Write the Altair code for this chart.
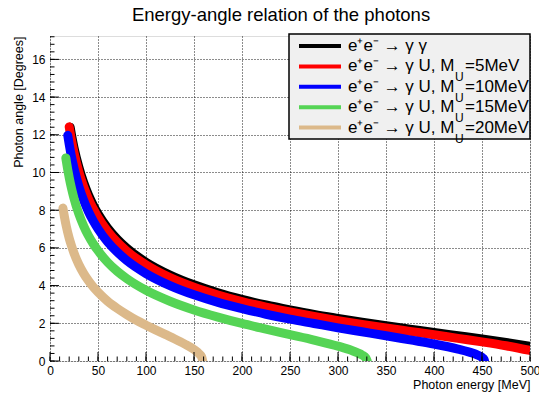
import altair as alt
import pandas as pd

FONT = "Liberation Sans"

# ---------------- data ----------------
series_keys = ["gg", "U5", "U10", "U15", "U20"]
colors = ["#000000", "#ff0000", "#0000ff", "#55d455", "#dcb98a"]
legend_prefix = ["e⁺e⁻ → γ γ", "e⁺e⁻ → γ U, M", "e⁺e⁻ → γ U, M", "e⁺e⁻ → γ U, M", "e⁺e⁻ → γ U, M"]
legend_suffix = ["", "=5MeV", "=10MeV", "=15MeV", "=20MeV"]
title_text = "Energy-angle relation of the photons"

E_gg = [21, 22.5, 25, 30, 35, 40, 45, 50, 60, 70, 80, 100, 125, 150, 175, 200,
        225, 250, 275, 300, 325, 350, 375, 400, 425, 450, 475, 500]
th_gg = [12.40, 11.96, 11.32, 10.29, 9.48, 8.82, 8.28, 7.81, 7.06, 6.47, 5.99, 5.24,
         4.56, 4.04, 3.62, 3.27, 2.97, 2.71, 2.47, 2.26, 2.06, 1.87, 1.69, 1.51,
         1.34, 1.17, 0.985, 0.785]

E_5 = [20, 22.5, 25, 30, 35, 40, 45, 50, 60, 70, 80, 100, 125, 150, 175, 200,
       225, 250, 275, 300, 325, 350, 375, 400, 425, 450, 475, 500]
th_5 = [12.42, 11.68, 11.06, 10.04, 9.25, 8.61, 8.08, 7.62, 6.88, 6.30, 5.83, 5.10,
        4.42, 3.91, 3.50, 3.15, 2.86, 2.60, 2.36, 2.14, 1.94, 1.75, 1.57, 1.39,
        1.20, 1.015, 0.81, 0.56]

E_10 = [18.5, 20, 22.5, 25, 30, 35, 40, 45, 50, 60, 70, 80, 100, 125, 150, 175, 200,
        225, 250, 275, 300, 325, 350, 375, 400, 425, 440, 445, 450, 452, 452.7]
th_10 = [11.97, 11.49, 10.80, 10.22, 9.27, 8.53, 7.93, 7.43, 7.01, 6.32, 5.78, 5.33,
         4.64, 4.00, 3.51, 3.11, 2.78, 2.48, 2.22, 1.99, 1.76, 1.55, 1.34, 1.12,
         0.90, 0.63, 0.42, 0.32, 0.19, 0.10, 0.0]

E_15 = [16.5, 17, 20, 22.5, 25, 30, 35, 40, 45, 50, 60, 70, 80, 100, 125, 150, 175,
        200, 225, 250, 275, 300, 315, 320, 325, 329, 330.4]
th_15 = [10.77, 10.60, 9.73, 9.14, 8.63, 7.81, 7.17, 6.65, 6.22, 5.85, 5.24, 4.76,
         4.37, 3.75, 3.17, 2.71, 2.33, 1.99, 1.69, 1.40, 1.11, 0.79, 0.545, 0.44,
         0.32, 0.16, 0.0]

E_20 = [13.5, 15, 17, 20, 22.5, 25, 30, 35, 40, 45, 50, 60, 70, 80, 90, 100, 110,
        120, 130, 140, 150, 155, 158, 159.1]
th_20 = [8.11, 7.66, 7.14, 6.51, 6.09, 5.72, 5.12, 4.65, 4.26, 3.93, 3.65, 3.17,
         2.79, 2.46, 2.16, 1.90, 1.65, 1.41, 1.17, 0.91, 0.61, 0.40, 0.21, 0.0]

x_major = [0, 50, 100, 150, 200, 250, 300, 350, 400, 450, 500]
x_minor = list(range(0, 501, 10))
y_major = [0, 2, 4, 6, 8, 10, 12, 14, 16]
y_minor = [round(0.4 * i, 1) for i in range(0, 44)]

energies = [E_gg, E_5, E_10, E_15, E_20]
angles = [th_gg, th_5, th_10, th_15, th_20]

# ---------------- chart ----------------
W, H = 480, 325
xscale = alt.Scale(domain=[0, 500], nice=False, zero=False)
yscale = alt.Scale(domain=[0, 17.24], nice=False, zero=False)

x_axis = alt.Axis(values=x_major, format="d", title="Photon energy [MeV]",
                  titleAnchor="end", titleAlign="right", titleX=W, titleY=23,
                  titleBaseline="middle", titleFontSize=12.5, titleFontWeight="normal",
                  titleFont=FONT, labelFont=FONT, labelFontSize=12, labelPadding=4,
                  labelColor="black", titleColor="black", labelFlush=False,
                  labelOverlap=False, ticks=False, domain=False, grid=True,
                  gridDash=[1, 2], gridColor="black", gridOpacity=0.9)
y_axis = alt.Axis(values=y_major, format="d", title="Photon angle [Degrees]",
                  titleAnchor="end", titleAlign="right", titleAngle=270,
                  titleX=-32, titleY=0, titleBaseline="middle", titleFontSize=12.5,
                  titleFontWeight="normal", titleFont=FONT, labelFont=FONT,
                  labelFontSize=12, labelPadding=5, labelColor="black",
                  titleColor="black", labelFlush=False, labelOverlap=False,
                  ticks=False, domain=False, grid=True, gridDash=[1, 2],
                  gridColor="black", gridOpacity=0.9)

layers = []
for i, (key, col, Es, ths) in enumerate(zip(series_keys, colors, energies, angles)):
    df = pd.DataFrame({"E": Es, "theta": ths, "series": key})
    layers.append(
        alt.Chart(df).mark_line(color=col, strokeWidth=9, strokeCap="round",
                                strokeJoin="round", interpolate="monotone", clip=True)
        .encode(x=alt.X("E:Q", scale=xscale, axis=x_axis),
                y=alt.Y("theta:Q", scale=yscale, axis=y_axis))
    )

def xticks(vals, length):
    return alt.Chart(pd.DataFrame({"v": vals})).mark_rule(color="black", strokeWidth=1).encode(
        x=alt.X("v:Q", scale=xscale, axis=x_axis), y=alt.value(H), y2=alt.value(H - length))

def yticks(vals, length):
    return alt.Chart(pd.DataFrame({"v": vals})).mark_rule(color="black", strokeWidth=1).encode(
        y=alt.Y("v:Q", scale=yscale, axis=y_axis), x=alt.value(0), x2=alt.value(length))

layers += [xticks(x_minor, 4.5), xticks(x_major, 9), yticks(y_minor, 4.5), yticks(y_major, 9)]

one = pd.DataFrame({"k": [0]})

# title
layers.append(alt.Chart(one).mark_text(align="center", baseline="alphabetic", font=FONT,
                                       fontSize=18.5, color="black").encode(
    x=alt.value(231), y=alt.value(-15.5), text=alt.value(title_text)))

# legend box
layers.append(
    alt.Chart(one).mark_rect(fill="#f0f0f0", stroke="black", strokeWidth=1.5).encode(
        x=alt.value(239), x2=alt.value(480), y=alt.value(-2), y2=alt.value(103))
)
for i in range(5):
    yc = 10 + 20.4 * i
    layers.append(alt.Chart(one).mark_rule(color=colors[i], strokeWidth=4).encode(
        x=alt.value(249), x2=alt.value(291), y=alt.value(yc)))
    layers.append(alt.Chart(one).mark_text(align="left", baseline="middle", font=FONT,
                                           fontSize=17, color="black").encode(
        x=alt.value(298), y=alt.value(yc), text=alt.value(legend_prefix[i])))
    if legend_suffix[i]:
        layers.append(alt.Chart(one).mark_text(align="left", baseline="middle", font=FONT,
                                               fontSize=12, color="black").encode(
            x=alt.value(405), y=alt.value(yc + 11), text=alt.value("U")))
        layers.append(alt.Chart(one).mark_text(align="left", baseline="middle", font=FONT,
                                               fontSize=17, color="black").encode(
            x=alt.value(415), y=alt.value(yc), text=alt.value(legend_suffix[i])))

chart = alt.layer(*layers).properties(
    width=W, height=H,
    autosize=alt.AutoSizeParams(type="none"),
    padding={"left": 50, "top": 36, "right": 9, "bottom": 37},
).configure_view(stroke="black", strokeWidth=1).configure(background="white")

chart.save("out.html", embed_options={"renderer": "svg", "actions": False})
